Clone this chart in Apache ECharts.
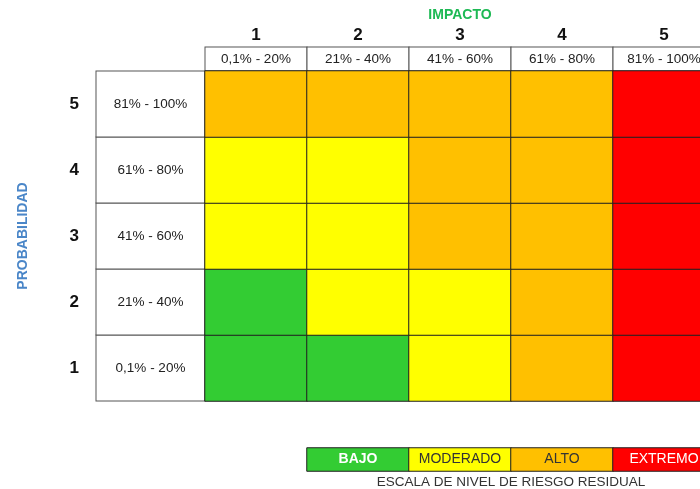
<!DOCTYPE html>
<html>
<head>
<meta charset="utf-8">
<script src="https://cdn.jsdelivr.net/npm/echarts@6/dist/echarts.min.js"></script>
<style>html,body{margin:0;padding:0;background:#fff}#c{width:700px;height:489px}</style>
</head>
<body>
<div id="c"></div>
<script>
const impactLevels = ['1', '2', '3', '4', '5'];
const impactRanges = ['0,1% - 20%', '21% - 40%', '41% - 60%', '61% - 80%', '81% - 100%'];
const probLevels = ['1', '2', '3', '4', '5'];
const probRanges = ['0,1% - 20%', '21% - 40%', '41% - 60%', '61% - 80%', '81% - 100%'];
const riskLevels = ['BAJO', 'MODERADO', 'ALTO', 'EXTREMO'];
// risk level index per probability row (1..5), columns = impact 1..5
const riskProb1 = [0, 0, 1, 2, 3];
const riskProb2 = [0, 1, 1, 2, 3];
const riskProb3 = [1, 1, 2, 2, 3];
const riskProb4 = [1, 1, 2, 2, 3];
const riskProb5 = [2, 2, 2, 2, 3];

const riskRows = [riskProb1, riskProb2, riskProb3, riskProb4, riskProb5];
const colors = ['#33CC33', '#FFFF00', '#FFC000', '#FF0000'];
const labelColors = ['#ffffff', '#333333', '#333333', '#ffffff'];
const labelWeights = ['bold', 'normal', 'normal', 'normal'];
const FONT = 'Arial, "Liberation Sans", sans-serif';

const matrixData = [];
riskRows.forEach((row, y) => row.forEach((v, x) => matrixData.push([x, y, v])));
const legendData = riskLevels.map((name, i) => ({
  value: [i, 0, i],
  label: { color: labelColors[i], fontWeight: labelWeights[i] }
}));

const chart = echarts.init(document.getElementById('c'), null, { renderer: 'canvas' });
chart.setOption({
  animation: false,
  textStyle: { fontFamily: FONT },
  grid: [
    { left: 205, top: 71, width: 510, height: 330, outerBoundsMode: 'none', containLabel: false },
    { left: 307, top: 448, width: 408, height: 23, outerBoundsMode: 'none', containLabel: false }
  ],
  visualMap: {
    show: false, type: 'piecewise', dimension: 2, seriesIndex: [0, 1],
    pieces: colors.map((c, i) => ({ value: i, color: c }))
  },
  xAxis: [
    {
      type: 'category', gridIndex: 0, position: 'top', data: impactRanges,
      axisLine: { show: false }, axisTick: { show: false }, splitLine: { show: false },
      axisLabel: {
        interval: 0, margin: 12, verticalAlign: 'middle', align: 'center',
        width: 101, height: 23, lineHeight: 23, padding: 0,
        backgroundColor: '#fff', borderColor: '#555', borderWidth: 1,
        color: '#222', fontSize: 13.5, fontFamily: FONT
      }
    },
    {
      type: 'category', gridIndex: 0, position: 'top', offset: 24, data: impactLevels,
      axisLine: { show: false }, axisTick: { show: false }, splitLine: { show: false },
      axisLabel: { interval: 0, margin: 3, color: '#111', fontSize: 17, fontWeight: 'bold', fontFamily: FONT },
      name: 'IMPACTO', nameLocation: 'middle', nameGap: 25,
      nameTextStyle: { color: '#1DB954', fontSize: 14, fontWeight: 'bold', fontFamily: FONT }
    },
    {
      type: 'category', gridIndex: 1, data: riskLevels,
      axisLine: { show: false }, axisTick: { show: false }, axisLabel: { show: false }, splitLine: { show: false },
      name: 'ESCALA DE NIVEL DE RIESGO RESIDUAL', nameLocation: 'middle', nameGap: 4,
      nameTextStyle: { color: '#333', fontSize: 13.5, fontFamily: FONT, verticalAlign: 'top' }
    }
  ],
  yAxis: [
    {
      type: 'category', gridIndex: 0, position: 'left', data: probRanges,
      axisLine: { show: false }, axisTick: { show: false }, splitLine: { show: false },
      axisLabel: {
        interval: 0, margin: 54.5, align: 'center', verticalAlign: 'middle',
        width: 108, height: 65, lineHeight: 65, padding: 0,
        backgroundColor: '#fff', borderColor: '#555', borderWidth: 1,
        color: '#222', fontSize: 13.5, fontFamily: FONT
      }
    },
    {
      type: 'category', gridIndex: 0, position: 'left', offset: 109, data: probLevels,
      axisLine: { show: false }, axisTick: { show: false }, splitLine: { show: false },
      axisLabel: { interval: 0, margin: 17, color: '#111', fontSize: 17, fontWeight: 'bold', fontFamily: FONT },
      name: 'PROBABILIDAD', nameLocation: 'middle', nameGap: 66, nameRotate: 90,
      nameTextStyle: { color: '#4A86C8', fontSize: 14, fontWeight: 'bold', fontFamily: FONT }
    },
    {
      type: 'category', gridIndex: 1, data: [''],
      axisLine: { show: false }, axisTick: { show: false }, axisLabel: { show: false }, splitLine: { show: false }
    }
  ],
  series: [
    {
      type: 'heatmap', xAxisIndex: 0, yAxisIndex: 0, data: matrixData,
      itemStyle: { borderColor: '#222', borderWidth: 1 },
      label: { show: false }, emphasis: { disabled: true }
    },
    {
      type: 'heatmap', xAxisIndex: 2, yAxisIndex: 2, data: legendData,
      itemStyle: { borderColor: '#222', borderWidth: 1 },
      label: {
        show: true, fontSize: 14, fontFamily: FONT,
        formatter: p => riskLevels[p.value[0]]
      },
      emphasis: { disabled: true }
    }
  ]
});
</script>
</body>
</html>
